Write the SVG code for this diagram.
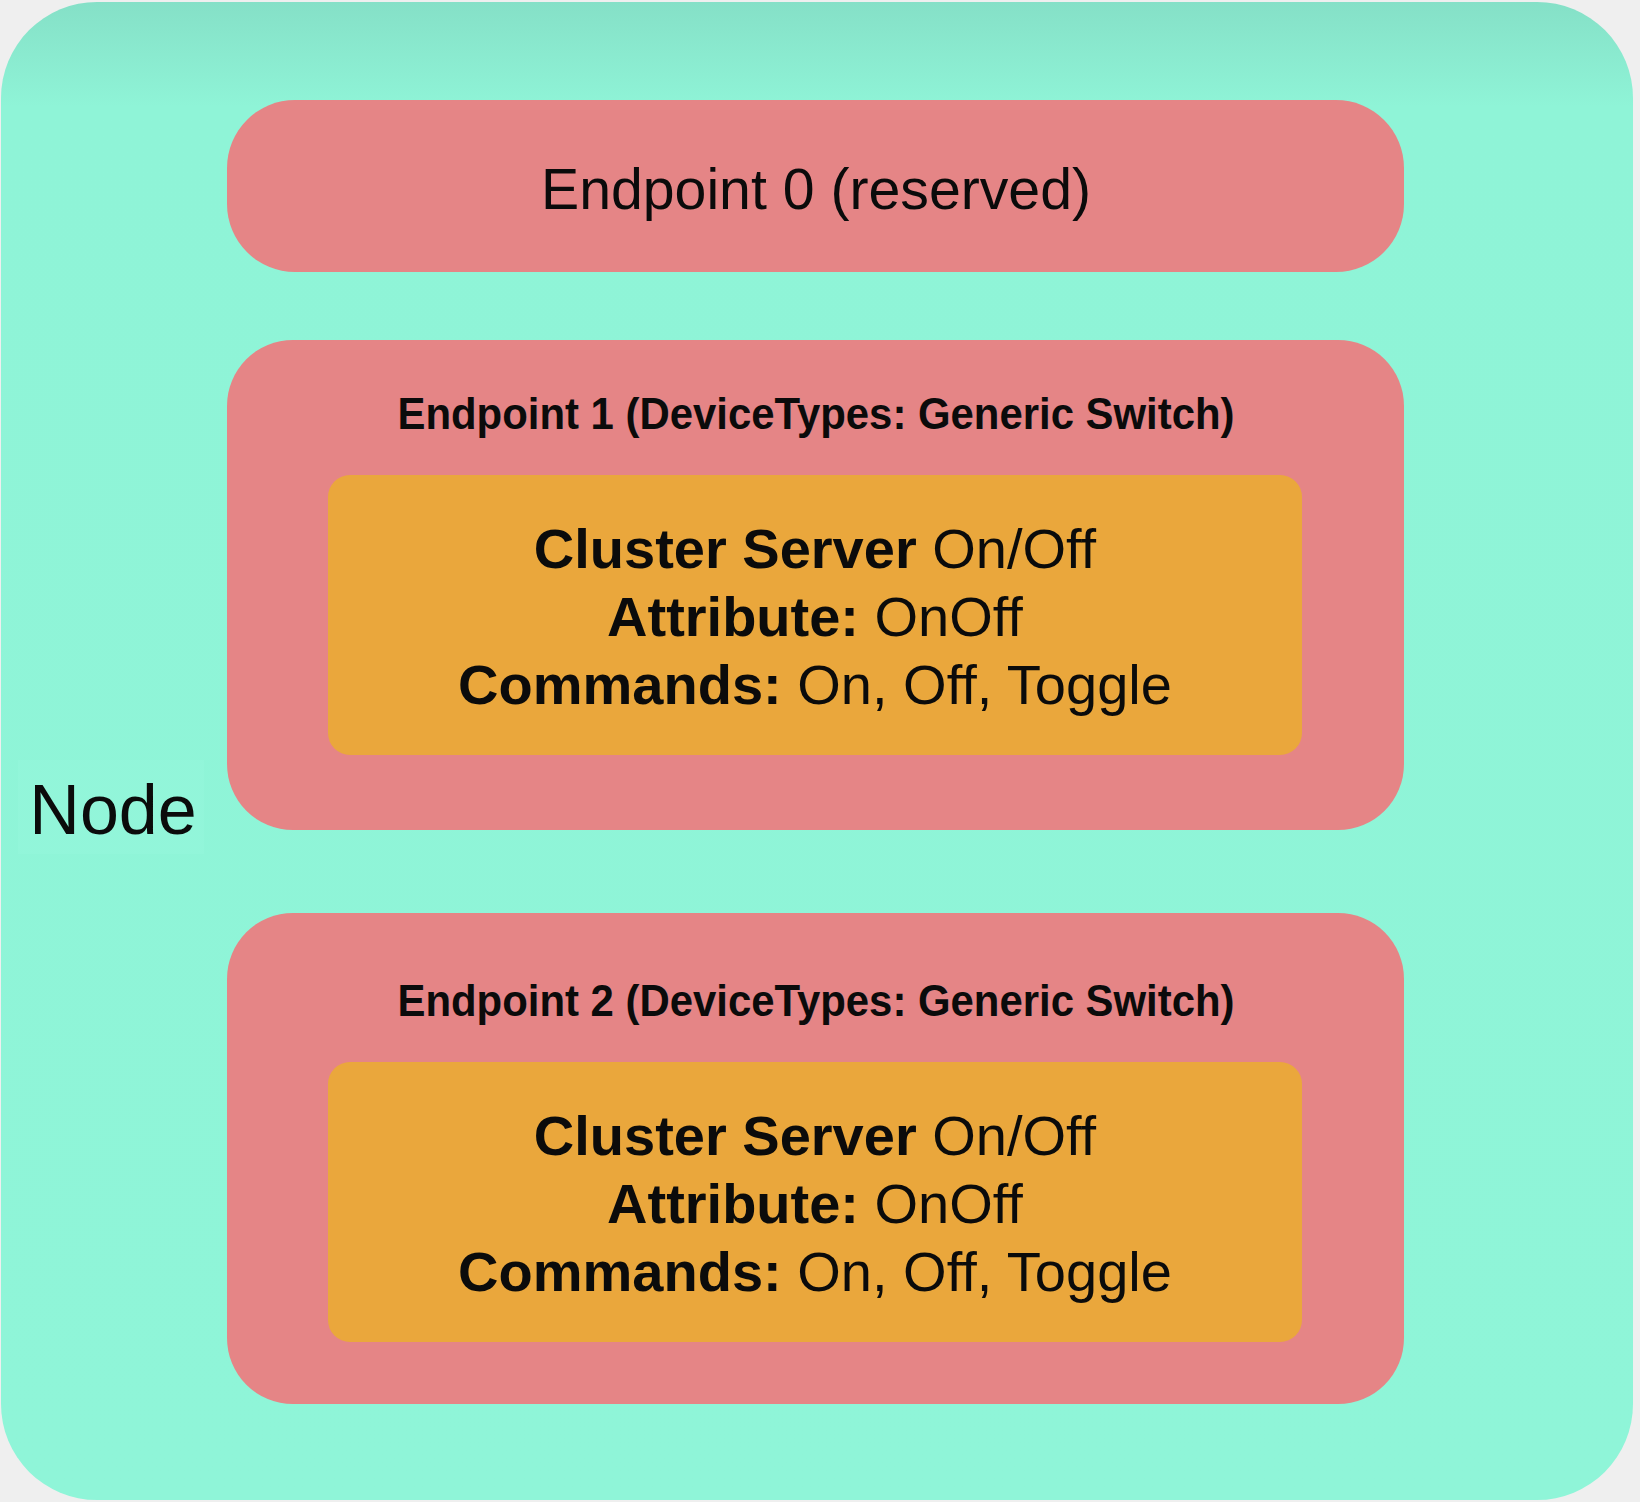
<svg xmlns="http://www.w3.org/2000/svg" width="1640" height="1502" viewBox="0 0 1640 1502">
<style>
.ep{fill:#e58586}
.cl{fill:#eaa73c}
.t{font-family:"Liberation Sans",Arial,Helvetica,sans-serif;fill:#0b0b0b;text-anchor:middle}
.b{font-weight:bold}
.r{font-weight:normal}
</style>
<defs>
<linearGradient id="tg" x1="0" y1="0" x2="0" y2="1">
<stop offset="0" stop-color="#85e0c7"/>
<stop offset="0.07" stop-color="#8ff4d7"/>
<stop offset="1" stop-color="#8ff5d8"/>
</linearGradient>
</defs>
<rect x="0" y="0" width="1640" height="1502" fill="#efefef"/>
<g id="node">
<rect x="1" y="2" width="1632" height="1498" rx="96" ry="96" fill="url(#tg)"/>
<rect x="18" y="760" width="186" height="94" fill="#9af7de" opacity="0.3"/>
<text class="t r" x="113" y="834" font-size="70">Node</text>
</g>
<g id="endpoint0">
<rect class="ep" x="227" y="100" width="1177" height="172" rx="68" ry="68"/>
<text class="t r" x="816" y="209" font-size="57" textLength="550" lengthAdjust="spacingAndGlyphs">Endpoint 0 (reserved)</text>
</g>
<g id="endpoint1">
<rect class="ep" x="227" y="340" width="1177" height="490" rx="66" ry="66"/>
<text class="t b" x="816" y="429" font-size="45" textLength="837" lengthAdjust="spacingAndGlyphs">Endpoint 1 (DeviceTypes: Generic Switch)</text>
</g>
<g id="cluster1">
<rect class="cl" x="328" y="475" width="974" height="280" rx="22" ry="22"/>
<text class="t" x="815" y="568" font-size="56"><tspan class="b">Cluster Server </tspan><tspan class="r">On/Off</tspan></text>
<text class="t" x="815" y="636" font-size="56"><tspan class="b">Attribute: </tspan><tspan class="r">OnOff</tspan></text>
<text class="t" x="815" y="704" font-size="56"><tspan class="b">Commands: </tspan><tspan class="r">On, Off, Toggle</tspan></text>
</g>
<g id="endpoint2">
<rect class="ep" x="227" y="913" width="1177" height="491" rx="66" ry="66"/>
<text class="t b" x="816" y="1016" font-size="45" textLength="837" lengthAdjust="spacingAndGlyphs">Endpoint 2 (DeviceTypes: Generic Switch)</text>
</g>
<g id="cluster2">
<rect class="cl" x="328" y="1062" width="974" height="280" rx="22" ry="22"/>
<text class="t" x="815" y="1155" font-size="56"><tspan class="b">Cluster Server </tspan><tspan class="r">On/Off</tspan></text>
<text class="t" x="815" y="1223" font-size="56"><tspan class="b">Attribute: </tspan><tspan class="r">OnOff</tspan></text>
<text class="t" x="815" y="1291" font-size="56"><tspan class="b">Commands: </tspan><tspan class="r">On, Off, Toggle</tspan></text>
</g>
<g id="connectors"/>
</svg>
